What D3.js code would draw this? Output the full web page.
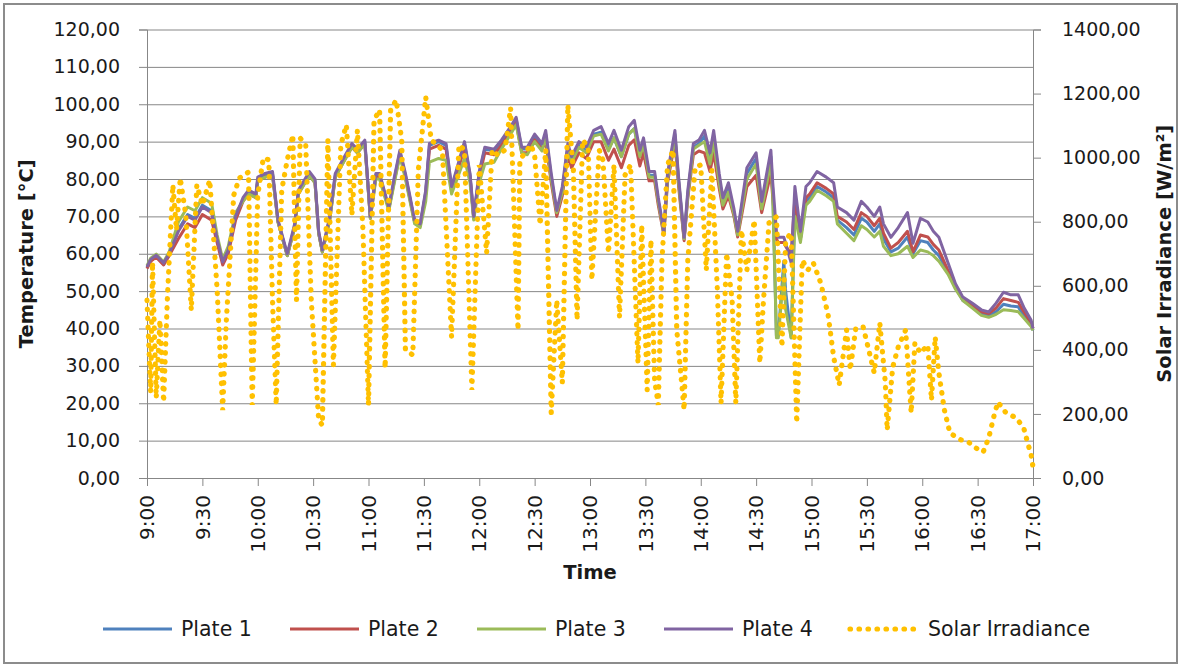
<!DOCTYPE html>
<html>
<head>
<meta charset="utf-8">
<script src="https://cdn.jsdelivr.net/npm/d3@7"></script>
<style>
html,body{margin:0;padding:0;background:#fff;}
svg{display:block;}
text{font-family:"DejaVu Sans",sans-serif;fill:#1a1a1a;}
</style>
</head>
<body>
<svg id="chart" width="1181" height="667"></svg>
<script>
// ---- data ----
const xTickLabels = ["9:00","9:30","10:00","10:30","11:00","11:30","12:00","12:30","13:00","13:30","14:00","14:30","15:00","15:30","16:00","16:30","17:00"];
const xTickMinutes = [0,30,60,90,120,150,180,210,240,270,300,330,360,390,420,450,480];
const leftTicks = [0,10,20,30,40,50,60,70,80,90,100,110,120];
const rightTicks = [0,200,400,600,800,1000,1200,1400];
const seriesNames = ["Plate 1","Plate 2","Plate 3","Plate 4","Solar Irradiance"];

// minutes after 9:00 for temperature readings
const tempTime = [0,2,5,9,12,17,22,26,30,35,38,41,44,48,52,55,59,60,64,68,71,76,80,82,88,91,93,95,99,102,107,111,114,118,121,124,126,131,134,137,140,145,148,151,153,158,162,165,168,172,175,177,180,183,188,192,197,200,203,206,210,214,216,219,222,225,228,230,234,238,242,246,250,253,257,261,264,267,269,272,275,277,280,282,286,288,291,293,296,299,302,305,307,310,312,315,318,320,325,330,333,338,339,341,342,345,346,349,351,354,357,359,363,368,372,374,379,383,387,390,394,397,399,403,407,412,415,419,423,426,429,434,438,442,447,452,456,460,464,468,472,475,479,480];
const plate4 = [56.5,58.5,59.6,57.5,60,66,70,69,72.5,71,64,57.8,61,70,75,77,76,80.5,81.5,82,69,60,68,77,82,80,66,61,70,81.5,86,89.5,88,90.4,70,81.5,81.5,72.5,80.5,87.7,81.5,69,68,77,89.5,90.4,89.5,78,83,90,81.5,70,82,88.5,88,90.4,94,96.5,88.5,88.5,92,89.5,93,81.5,71.6,78,89.5,86,90,88.5,93,94,89.5,93,87.7,94,95.7,87.7,91,82,82,75,66,81.5,93,80.5,64.4,77,89.5,90.4,93,87,93,81.5,75,79,72,66,83,87,74,87.7,79,66,64.4,64.4,62.8,57.5,78,66,78,79,82,80.5,79,72.5,71,69,74,72.5,70,72.5,68,64.4,67,71,62.8,69.5,68.5,66,64.4,57.5,52,48.4,46.8,45,44.4,46.8,49.7,49,49,45.7,42.2,40];
const plate2 = [56,58,59.1,57,59.5,64,68,67,70.5,69,63,57,60,69,74,76,75,79.5,80.5,81,68.5,59.5,67,76,81,79,65.5,60.5,69,80.5,85,88.5,87,89.4,69.5,80.5,80.5,72,79.5,86.7,80.5,68.5,67.5,76,88,89,88,77,81.5,88.5,80.5,69.5,80.5,87,86.5,89,92.5,95,87,87,90.5,88,90,79,70,75.5,86.5,83,87,85.5,90,90,85,88,83,89,90.5,83.5,87,79.5,79.5,73,65,79,90,78,63.5,75,86.5,87.5,87,82,87,77.5,72,75.5,70,64.5,78,81,71,81.5,75,64,63,63,62,60,75,64,75,76,79,77.5,76,70,68.5,66.5,71,70,67.5,69.5,65.5,61.5,63,66,60.5,65,64.5,62.5,61,55.5,51.5,48,46.3,44.5,44,45.5,48,47.5,47,44.5,41.5,40];
const plate1 = [56.2,58.2,59.3,57.2,59.8,66.5,70.5,69.5,73,71.5,64,57.8,61,70,74.5,76.5,75.5,80,81,81.5,68.5,59.5,67.5,76.5,81.5,79.5,65.5,60.5,69.5,81,85.5,89,87.5,90,69.5,81,81,72,80,87.2,81,68.5,67.5,76.5,89,90,89,77.5,82.5,89.5,81,69.5,81.5,88,87.5,90,93.5,96,88,88,91.5,89,92,80.5,71,77,88.5,85,89,87.5,92,92.5,88,91,86,92,93.5,86,89.5,81,81,74,65.5,80.5,92,79.5,64,76,88.5,89.5,91.5,85.5,91.5,80,74,77.5,71,65.5,81.5,85.5,73,86,77,38,38,58,50,37.5,72,64,74,75,78,76.5,75,69,67,65,69.5,68.5,66,68,64,60.5,61.5,64.5,60,63.5,63,61,59.5,55,51,47.5,46,44,43.5,44.5,46.5,46,45.8,43.5,41,39.5];
const plate3 = [56.8,58.8,59.9,57.8,60.5,68.5,72.5,71.5,75,73.5,65,58.5,62,71,74,76,75,79.5,80.5,81,68.5,59.5,67,76,81,79,65.5,60.5,69,80.5,85,88.5,87,89.4,69.5,80,80,71.5,79,86.2,80,68,67,74,84.5,85.5,85,76,80,85.5,79,69,79,84,84.5,88,92,94.5,87,86.5,90,87.5,91.5,80,71,76.5,88,84.5,88.5,87,91.5,92,87.5,91,86,92,93.5,86,89.5,80.5,80.5,74,65.5,80,91.5,79,64,75.5,88,89,90,84,90,79,73,76.5,70.5,65,80,84,72,84.5,76,37.5,37.5,55,45,37.5,70,63,73,74,77,75.5,74,68,65.5,63.5,67.5,66.5,64.5,66,62,59.5,60,62,59,61,60.5,59.5,58,54.5,50.5,47.5,45.5,43.5,43,43.8,45,44.8,44.5,42.8,40.5,39.5];

// minutes after 9:00 for irradiance readings (W/m2)
const irrTime = [0,2,3,5,7,9,11,14,16,18,21,24,27,30,34,38,41,43,47,50,55,57,60,63,66,68,70,73,76,79,81,83,86,89,93,95,98,101,105,108,111,114,117,120,123,126,129,132,135,138,140,144,147,151,154,157,160,165,169,172,176,180,184,187,190,194,197,201,202,208,210,213,216,219,222,225,228,231,233,236,239,241,245,247,250,253,256,259,262,266,268,271,273,275,277,279,282,285,287,291,293,297,300,303,306,309,311,314,317,319,322,325,329,332,334,337,341,344,346,349,352,355,358,361,365,369,372,375,379,381,384,388,391,394,397,400,401,404,407,411,414,416,419,423,425,427,429,432,435,441,445,449,453,456,459,461,465,471,475,477,479,480];
const irradiance = [555,268,674,250,493,237,555,915,774,936,821,524,915,852,930,587,212,493,883,936,955,228,883,999,993,555,228,899,993,1071,555,1061,1040,555,181,165,1055,352,1040,1102,821,1086,774,228,1117,1149,343,1149,1180,1055,400,384,961,1189,1055,1040,1024,440,1040,1024,275,977,702,1024,1008,1024,1155,462,993,1040,1008,790,1024,203,555,297,1164,961,493,1055,1033,618,1024,993,702,977,502,946,977,359,790,275,743,306,228,680,977,1024,462,212,680,971,977,649,961,587,234,702,555,234,774,649,805,359,555,796,815,409,743,765,172,680,649,671,609,509,378,290,462,337,468,471,400,328,484,297,150,346,409,462,203,421,390,415,243,440,328,212,140,119,112,94,81,125,197,237,206,187,156,112,72,34];

// ---- drawing ----
const svg = d3.select("#chart");
const L = 147, R = 1033, T = 29.5, B = 478;
const gridCol = "#878787";

const x = d3.scaleLinear().domain([0, 480]).range([L, R]);
const yL = d3.scaleLinear().domain([0, 120]).range([B, T]);
const yR = d3.scaleLinear().domain([0, 1400]).range([B, T]);
const loc = d3.formatLocale({decimal: ",", thousands: "", grouping: [3], currency: ["", ""]});
const fmt = loc.format(".2f");

// outer border
svg.append("rect").attr("x", 4).attr("y", 4).attr("width", 1173).attr("height", 659)
  .attr("fill", "#fff").attr("stroke", "#8c8c8c").attr("stroke-width", 2);

// gridlines
svg.append("g").attr("transform", `translate(${L},0)`)
  .call(d3.axisLeft(yL).tickValues(leftTicks).tickSize(-(R - L)).tickFormat(""))
  .call(g => g.select(".domain").remove())
  .call(g => g.selectAll("line").attr("stroke", gridCol).attr("stroke-width", 1));

// left axis
const gL = svg.append("g").attr("transform", `translate(${L},0)`)
  .call(d3.axisLeft(yL).tickValues(leftTicks).tickSize(8).tickPadding(19).tickFormat(fmt));
gL.select(".domain").attr("stroke", gridCol);
gL.selectAll("line").attr("stroke", gridCol);
gL.selectAll("text").attr("font-size", 19).attr("font-family", "DejaVu Sans").attr("fill", "#1a1a1a");

// right axis
const gR = svg.append("g").attr("transform", `translate(${R},0)`)
  .call(d3.axisRight(yR).tickValues(rightTicks).tickSize(8).tickPadding(21).tickFormat(fmt));
gR.select(".domain").attr("stroke", gridCol);
gR.selectAll("line").attr("stroke", gridCol);
gR.selectAll("text").attr("font-size", 19).attr("font-family", "DejaVu Sans").attr("fill", "#1a1a1a");

// bottom axis
const gB = svg.append("g").attr("transform", `translate(0,${B})`)
  .call(d3.axisBottom(x).tickValues(xTickMinutes).tickSize(8).tickFormat(""));
gB.select(".domain").attr("stroke", gridCol);
gB.selectAll("line").attr("stroke", gridCol);
svg.append("g").selectAll("text").data(xTickMinutes).join("text")
  .attr("transform", d => `translate(${x(d)},${B + 17}) rotate(-90)`)
  .attr("text-anchor", "end").attr("dy", "0.36em")
  .attr("font-size", 20)
  .text((d, i) => xTickLabels[i]);

// axis titles
svg.append("text").attr("transform", `translate(33,${(T + B) / 2}) rotate(-90)`)
  .attr("text-anchor", "middle").attr("font-weight", "bold").attr("font-size", 19.5)
  .text("Temperature [°C]");
svg.append("text").attr("transform", `translate(1171,${(T + B) / 2}) rotate(-90)`)
  .attr("text-anchor", "middle").attr("font-weight", "bold").attr("font-size", 19.5)
  .text("Solar Irradiance [W/m²]");
svg.append("text").attr("x", (L + R) / 2).attr("y", 579)
  .attr("text-anchor", "middle").attr("font-weight", "bold").attr("font-size", 19.5)
  .text("Time");

// series
const colors = ["#4F81BD", "#C0504D", "#9BBB59", "#8064A2", "#FFC000"];
const plates = [plate1, plate2, plate3, plate4];
const tLine = d3.line().x((d, i) => x(tempTime[i])).y(d => yL(d));
plates.forEach((p, k) => {
  svg.append("path").datum(p).attr("d", tLine)
    .attr("fill", "none").attr("stroke", colors[k]).attr("stroke-width", 3)
    .attr("stroke-linejoin", "round");
});
const iLine = d3.line().x((d, i) => x(irrTime[i])).y(d => yR(d));
svg.append("path").datum(irradiance).attr("d", iLine)
  .attr("fill", "none").attr("stroke", colors[4]).attr("stroke-width", 5.2)
  .attr("stroke-linecap", "round").attr("stroke-dasharray", "0.5 8.5");

// legend
const legX = [103, 290, 477, 664, 850];
const lg = svg.append("g");
seriesNames.forEach((n, k) => {
  const ln = lg.append("line").attr("x1", legX[k]).attr("x2", legX[k] + 69)
    .attr("y1", 629).attr("y2", 629).attr("stroke", colors[k]);
  if (k < 4) ln.attr("stroke-width", 3);
  else ln.attr("stroke-width", 5.2).attr("stroke-linecap", "round").attr("stroke-dasharray", "0.5 8.5");
  lg.append("text").attr("x", legX[k] + 78).attr("y", 629).attr("dy", "0.36em")
    .attr("font-size", 20.5).text(n);
});
</script>
</body>
</html>
